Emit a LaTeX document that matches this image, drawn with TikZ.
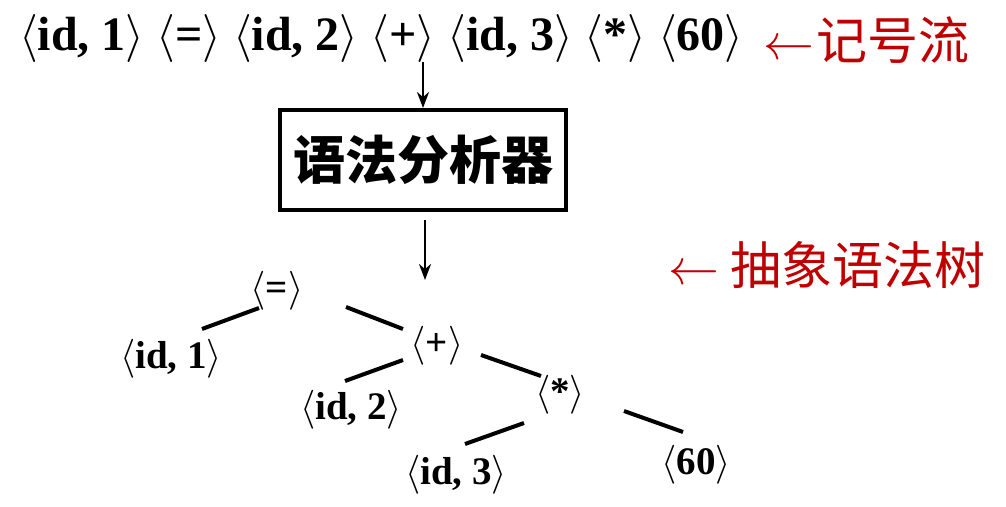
\documentclass[tikz,border=0pt]{standalone}
\usepackage{fontspec}
\usepackage{unicode-math}
\setmainfont{Liberation Serif}
\setmathfont{Latin Modern Math}
\newfontfamily\cjk{Noto Sans CJK SC}
\usetikzlibrary{calc,arrows.meta}
\definecolor{labelred}{RGB}{192,0,0}
\newcommand\tk[1]{$\langle$#1$\rangle$}

\begin{document}
\begin{tikzpicture}[x=1pt, y=-1pt,
    tokens/.style={inner sep=0pt, font=\fontsize{48}{52}\selectfont\bfseries},
    leaf/.style={inner sep=0pt, font=\fontsize{39}{42}\selectfont\bfseries},
    parser/.style={draw, line width=4pt, minimum width=286pt, minimum height=100pt, inner sep=0pt,
                   font=\fontsize{52}{56}\selectfont\cjk\bfseries},
    note/.style={inner sep=0pt, text=labelred, font=\fontsize{51}{54}\selectfont\cjk},
    branch/.style={line width=4pt},
    flow/.style={line width=2.5pt, -{Stealth[length=16pt, width=12pt]}}]
       \useasboundingbox (0,0) rectangle (1006,506);
       % token stream and parser
       \node[tokens, anchor=west] (stream) at (19,38) {\tk{id, 1} \tk{=} \tk{id, 2} \tk{+} \tk{id, 3} \tk{*} \tk{60}};
       \node[note, anchor=west] (streamlbl) at (763,40) {$\leftarrow$\kern2pt 记号流};
       \node[parser] (parser) at (423,160) {语法分析器};
       \node[note, anchor=west] (treelbl) at (668,265) {$\leftarrow$\ 抽象语法树};
       \coordinate (treetop) at (425,280);
       \draw[flow] (parser.north |- stream.south) -- (parser.north);
       \draw[flow, shorten <=8pt] (parser.south -| treetop) -- (treetop);
       % syntax tree
       \node[leaf] (eq)   at (277,291) {\tk{=}};
       \node[leaf] (id1)  at (171,359) {\tk{id, 1}};
       \node[leaf] (plus) at (437,346) {\tk{+}};
       \node[leaf] (id2)  at (351,410) {\tk{id, 2}};
       \node[leaf] (star) at (560,395) {\tk{*}};
       \node[leaf] (id3)  at (456,475) {\tk{id, 3}};
       \node[leaf] (n60)  at (696,465) {\tk{60}};
       \path[draw,branch] ($(eq)+(-18,17)$) -- ($(id1)+(31,-30)$);
       \path[draw,branch] ($(eq)+(69,16)$) -- ($(plus)+(-34,-17)$);
       \path[draw,branch] ($(plus)+(-34,14)$) -- ($(id2)+(-6,-29)$);
       \path[draw,branch] ($(plus)+(44,9)$) -- ($(star)+(-19,-19)$);
       \path[draw,branch] ($(star)+(-36,28)$) -- ($(id3)+(9,-31)$);
       \path[draw,branch] ($(star)+(64,16)$) -- ($(n60)+(-13,-33)$);
\end{tikzpicture}
\end{document}
